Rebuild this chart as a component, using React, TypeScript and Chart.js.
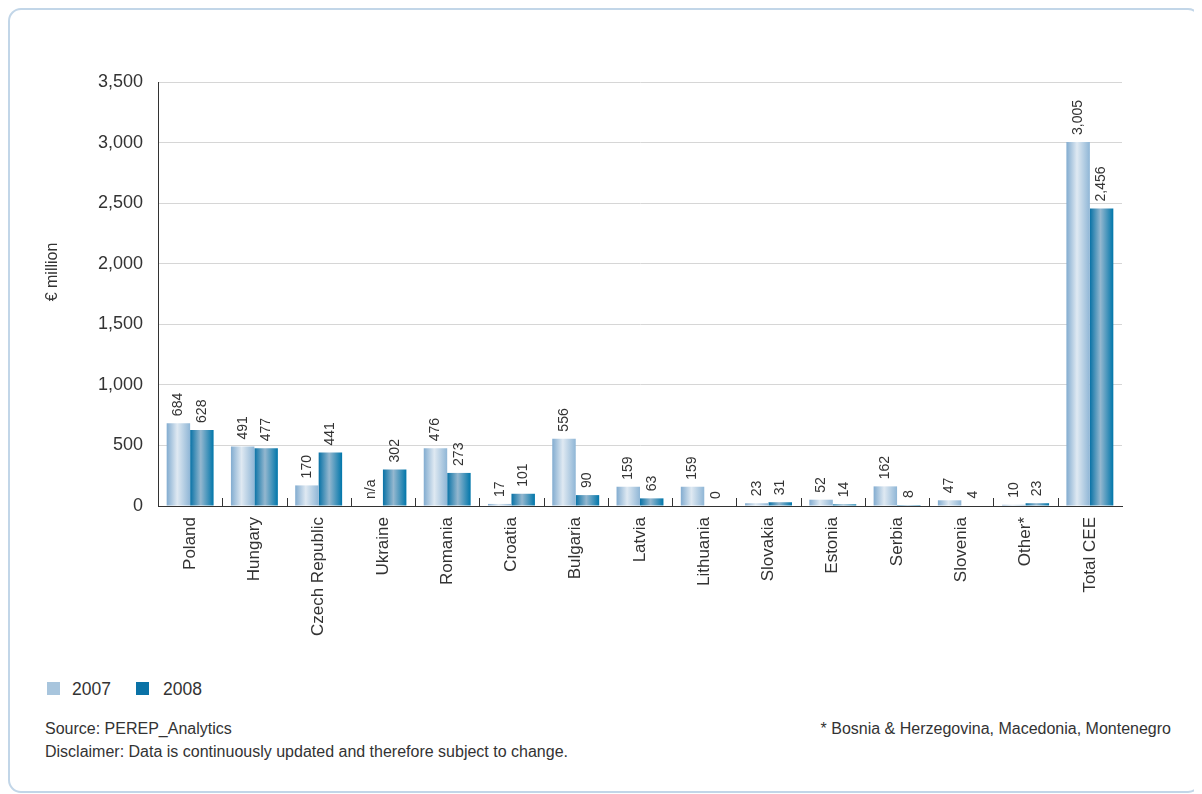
import React, { useEffect, useRef } from "react";
import { Chart, registerables } from "chart.js";

Chart.register(...registerables);

const categories = [
  "Poland",
  "Hungary",
  "Czech Republic",
  "Ukraine",
  "Romania",
  "Croatia",
  "Bulgaria",
  "Latvia",
  "Lithuania",
  "Slovakia",
  "Estonia",
  "Serbia",
  "Slovenia",
  "Other*",
  "Total CEE",
];
const values2007: (number | null)[] = [684, 491, 170, null, 476, 17, 556, 159, 159, 23, 52, 162, 47, 10, 3005];
const values2008: (number | null)[] = [628, 477, 441, 302, 273, 101, 90, 63, 0, 31, 14, 8, 4, 23, 2456];
const seriesNames = ["2007", "2008"];
const yMin = 0;
const yMax = 3500;
const yStep = 500;
const yAxisTitle = "€ million";
const missingLabel = "n/a";
const sourceText = "Source: PEREP_Analytics";
const disclaimerText = "Disclaimer: Data is continuously updated and therefore subject to change.";
const footnoteText = "* Bosnia & Herzegovina, Macedonia, Montenegro";

const FONT = '"Liberation Sans", Arial, sans-serif';
const TEXT = "#333333";
const legendColors = ["#a8c5dd", "#0a72a6"];
const gradientStops: [number, string][][] = [
  [
    [0, "#82acd0"],
    [0.45, "#dfe9f2"],
    [1, "#8fb6d6"],
  ],
  [
    [0, "#0872a6"],
    [0.45, "#94b7cf"],
    [1, "#0076aa"],
  ],
];

const fmt = (v: number | null) => (v === null ? missingLabel : v.toLocaleString("en-US"));

const decorPlugin = {
  id: "decor",
  beforeDatasetsDraw(chart: any) {
    const ctx = chart.ctx;
    chart.data.datasets.forEach((_ds: any, i: number) => {
      const meta = chart.getDatasetMeta(i);
      meta.data.forEach((el: any) => {
        const w = el.width;
        if (!w || !isFinite(el.x)) return;
        const x0 = el.x - w / 2;
        const g = ctx.createLinearGradient(x0, 0, x0 + w, 0);
        gradientStops[i].forEach(([o, c]) => g.addColorStop(o, c));
        el.options.backgroundColor = g;
      });
    });
  },
  afterDatasetsDraw(chart: any) {
    const ctx = chart.ctx;
    const yScale = chart.scales.y;
    const base = yScale.getPixelForValue(0);
    ctx.save();
    ctx.fillStyle = TEXT;
    ctx.font = `14px ${FONT}`;
    ctx.textAlign = "left";
    ctx.textBaseline = "middle";
    chart.data.datasets.forEach((ds: any, i: number) => {
      const meta = chart.getDatasetMeta(i);
      meta.data.forEach((el: any, j: number) => {
        const v = ds.data[j];
        const top = v === null || !isFinite(el.y) ? base : el.y;
        ctx.save();
        ctx.translate(el.x, top - 7);
        ctx.rotate(-Math.PI / 2);
        ctx.fillText(fmt(v), 0, 0);
        ctx.restore();
      });
    });
    ctx.restore();
  },
  afterDraw(chart: any) {
    const ctx = chart.ctx;
    const { left, right, bottom } = chart.chartArea;
    const n = categories.length;
    const cw = (right - left) / n;
    ctx.save();
    ctx.strokeStyle = "#333333";
    ctx.lineWidth = 1;
    for (let i = 1; i < n; i++) {
      const x = Math.round(left + i * cw) + 0.5;
      ctx.beginPath();
      ctx.moveTo(x, bottom - 8);
      ctx.lineTo(x, bottom);
      ctx.stroke();
    }
    // y axis title
    ctx.fillStyle = TEXT;
    ctx.font = `16px ${FONT}`;
    ctx.textAlign = "center";
    ctx.textBaseline = "middle";
    ctx.translate(45, 264);
    ctx.rotate(-Math.PI / 2);
    ctx.fillText(yAxisTitle, 0, 0);
    ctx.restore();
  },
};

export default function App() {
  const canvasRef = useRef<HTMLCanvasElement | null>(null);

  useEffect(() => {
    document.body.style.overflow = "hidden";
    const canvas = canvasRef.current;
    if (!canvas) return;
    const chart = new Chart(canvas, {
      type: "bar",
      data: {
        labels: categories,
        datasets: [
          {
            label: seriesNames[0],
            data: values2007,
            backgroundColor: () => legendColors[0],
            borderWidth: 0,
            categoryPercentage: 0.73,
            barPercentage: 1.0,
          },
          {
            label: seriesNames[1],
            data: values2008,
            backgroundColor: () => legendColors[1],
            borderWidth: 0,
            categoryPercentage: 0.73,
            barPercentage: 1.0,
          },
        ],
      },
      options: {
        animation: false,
        responsive: false,
        maintainAspectRatio: false,
        devicePixelRatio: 1,
        layout: { padding: { top: 74, left: 0, right: 80, bottom: 12 } },
        plugins: {
          legend: { display: false },
          tooltip: { enabled: false },
          title: { display: false },
        },
        scales: {
          x: {
            grid: { display: false },
            border: { display: true, color: "#333333", width: 1 },
            ticks: {
              autoSkip: false,
              maxRotation: 90,
              minRotation: 90,
              padding: 3,
              color: TEXT,
              font: { family: FONT, size: 17 },
            },
            afterFit: (scale: any) => {
              scale.height = 140;
            },
          },
          y: {
            min: yMin,
            max: yMax,
            grid: { color: "#d6d6d6", lineWidth: 1, drawTicks: false },
            border: { display: true, color: "#333333", width: 1 },
            ticks: {
              stepSize: yStep,
              padding: 15,
              color: TEXT,
              font: { family: FONT, size: 18 },
              callback: (v: any) => Number(v).toLocaleString("en-US"),
            },
            afterFit: (scale: any) => {
              scale.width = 150;
            },
          },
        },
      },
      plugins: [decorPlugin],
    });
    return () => chart.destroy();
  }, []);

  const textStyle: React.CSSProperties = {
    position: "absolute",
    fontFamily: FONT,
    color: TEXT,
    whiteSpace: "nowrap",
    lineHeight: "20px",
  };

  return (
    <div style={{ position: "relative", width: 1194, height: 786 }}>
      <div
        style={{
          position: "absolute",
          left: 0,
          top: 0,
          width: 1193,
          height: 785,
          boxSizing: "border-box",
          border: "2px solid #c2d6e8",
          borderRadius: 13,
        }}
      />
      <canvas
        ref={canvasRef}
        width={1194}
        height={650}
        style={{ position: "absolute", left: 0, top: 0, width: 1194, height: 650 }}
      />
      {seriesNames.map((name, i) => (
        <React.Fragment key={name}>
          <div
            style={{
              position: "absolute",
              left: i === 0 ? 39 : 128,
              top: 674,
              width: 13,
              height: 13,
              background: legendColors[i],
            }}
          />
          <div style={{ ...textStyle, left: i === 0 ? 64 : 155, top: 671, fontSize: 17.5 }}>{name}</div>
        </React.Fragment>
      ))}
      <div style={{ ...textStyle, left: 37, top: 711, fontSize: 16 }}>{sourceText}</div>
      <div style={{ ...textStyle, left: 37, top: 734, fontSize: 16 }}>{disclaimerText}</div>
      <div style={{ ...textStyle, right: 31, top: 711, fontSize: 16 }}>{footnoteText}</div>
    </div>
  );
}
